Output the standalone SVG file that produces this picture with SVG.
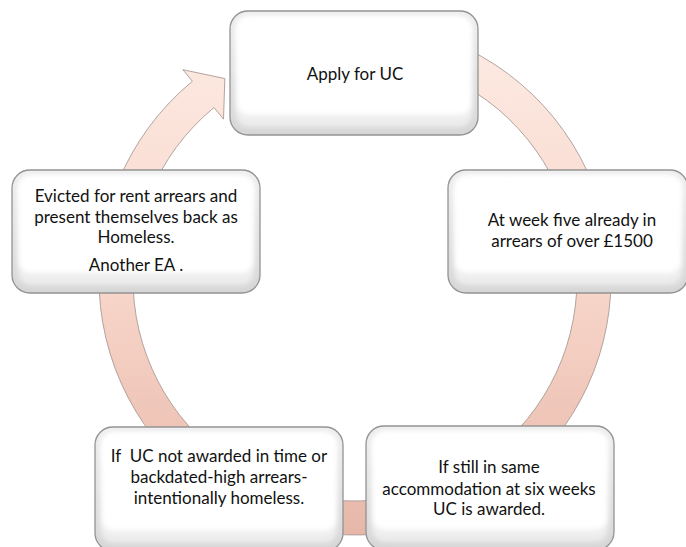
<svg xmlns="http://www.w3.org/2000/svg" width="686" height="547" viewBox="0 0 686 547">
<style>
  .frame{fill:url(#frameGrad);stroke:#939393;stroke-width:1.3}
  .face{fill:#ffffff;filter:url(#soft)}
  .lip{fill:url(#lipGrad);filter:url(#soft)}
  .lbl{font-family:Lato,"Liberation Sans",sans-serif;font-size:17px;fill:#111111;text-anchor:middle;white-space:pre}
  .ring{fill:url(#ringGrad);stroke:#a99a95;stroke-width:0.9}
</style>
<defs>
  <linearGradient id="frameGrad" x1="0" y1="0" x2="0" y2="1">
    <stop offset="0" stop-color="#eeeeee"/>
    <stop offset="1" stop-color="#d6d6d6"/>
  </linearGradient>
  <linearGradient id="lipGrad" x1="0" y1="0" x2="0" y2="1">
    <stop offset="0" stop-color="#ffffff"/>
    <stop offset="1" stop-color="#ececec"/>
  </linearGradient>
  <linearGradient id="ringGrad" gradientUnits="userSpaceOnUse" x1="0" y1="30" x2="0" y2="540">
    <stop offset="0" stop-color="#fdebe4"/>
    <stop offset="0.5" stop-color="#f8d6ca"/>
    <stop offset="1" stop-color="#e6b7a8"/>
  </linearGradient>
  <filter id="soft" x="-10%" y="-10%" width="120%" height="120%">
    <feGaussianBlur stdDeviation="2.5"/>
  </filter>
</defs>

<g id="connectors">
  <path class="ring" d="M267.44,38.44 A256,256 0 1 1 192.39,81.28 L182.86,69.69 L224.83,78.56 L223.52,119.12 L213.99,107.54 A222,222 0 1 0 279.07,70.39 Z"/>
</g>

<g id="node-apply">
  <rect class="frame" x="230" y="11" width="248" height="124" rx="18"/>
  <rect class="lip" x="236" y="17" width="236" height="110" rx="13"/>
  <rect class="face" x="237" y="17" width="234" height="98" rx="12"/>
  <text class="lbl" x="355" y="80">Apply for UC</text>
</g>

<g id="node-week5">
  <rect class="frame" x="448" y="170" width="240" height="123" rx="18"/>
  <rect class="lip" x="454" y="176" width="228" height="109" rx="13"/>
  <rect class="face" x="455" y="176" width="226" height="97" rx="12"/>
  <text class="lbl" x="572" y="226">At week five already in</text>
  <text class="lbl" x="572" y="247">arrears of over £1500</text>
</g>

<g id="node-sixweeks">
  <rect class="frame" x="366" y="426" width="248" height="124" rx="18"/>
  <rect class="lip" x="372" y="432" width="236" height="110" rx="13"/>
  <rect class="face" x="373" y="432" width="234" height="98" rx="12"/>
  <text class="lbl" x="489" y="473">If still in same</text>
  <text class="lbl" x="489" y="495">accommodation at six weeks</text>
  <text class="lbl" x="489" y="515">UC is awarded.</text>
</g>

<g id="node-notawarded">
  <rect class="frame" x="95" y="427" width="248" height="124" rx="18"/>
  <rect class="lip" x="101" y="433" width="236" height="110" rx="13"/>
  <rect class="face" x="102" y="433" width="234" height="98" rx="12"/>
  <text class="lbl" x="219" y="462">If  UC not awarded in time or</text>
  <text class="lbl" x="219" y="483">backdated-high arrears-</text>
  <text class="lbl" x="219" y="503.5">intentionally homeless.</text>
</g>

<g id="node-evicted">
  <rect class="frame" x="12" y="170" width="248" height="123" rx="18"/>
  <rect class="lip" x="18" y="176" width="236" height="109" rx="13"/>
  <rect class="face" x="19" y="176" width="234" height="97" rx="12"/>
  <text class="lbl" x="136" y="202">Evicted for rent arrears and</text>
  <text class="lbl" x="136" y="222.5">present themselves back as</text>
  <text class="lbl" x="136" y="243">Homeless.</text>
  <text class="lbl" x="136" y="271">Another EA .</text>
</g>
</svg>
